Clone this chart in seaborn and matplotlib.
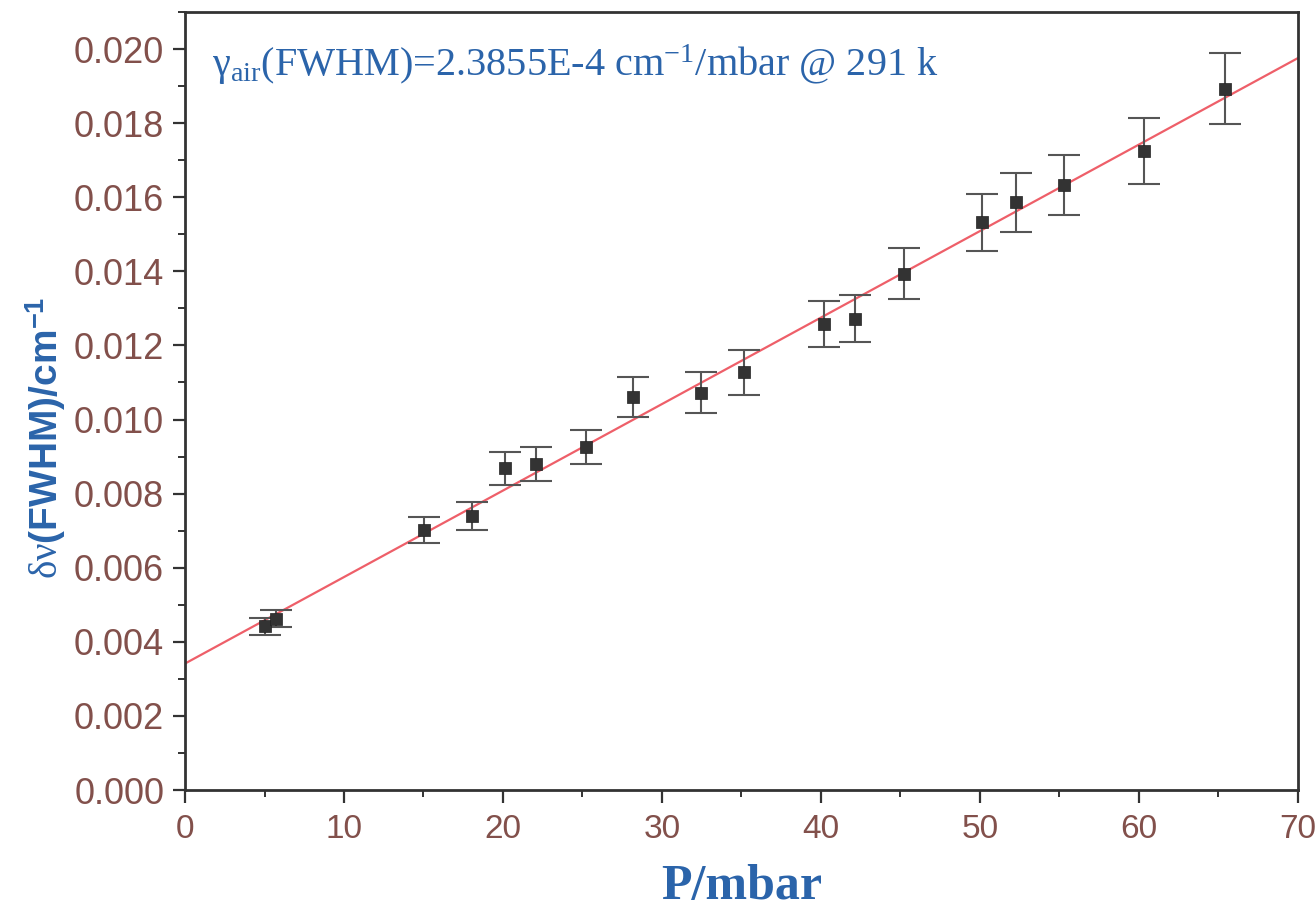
import numpy as np
import pandas as pd
import matplotlib
matplotlib.use("Agg")
import matplotlib.pyplot as plt
import seaborn as sns
from matplotlib.ticker import MultipleLocator, FormatStrFormatter

# Data
pressure = [5.04, 5.73, 15.06, 18.07, 20.10, 22.10, 25.20, 28.20, 32.46, 35.19,
            40.20, 42.17, 45.20, 50.13, 52.25, 55.26, 60.30, 65.40]
width = [0.00442, 0.00462, 0.00703, 0.00740, 0.00868, 0.00880, 0.00926, 0.01061,
         0.01072, 0.01127, 0.01258, 0.01272, 0.01394, 0.01532, 0.01586, 0.01633,
         0.01725, 0.01893]
width_err = [0.00023, 0.00023, 0.00035, 0.00038, 0.00044, 0.00045, 0.00046, 0.00054,
             0.00055, 0.00060, 0.00063, 0.00063, 0.00070, 0.00077, 0.00080, 0.00082,
             0.00088, 0.00096]
x_ticks = [0, 10, 20, 30, 40, 50, 60, 70]
y_ticks = [0.000, 0.002, 0.004, 0.006, 0.008, 0.010, 0.012, 0.014, 0.016, 0.018, 0.020]

df = pd.DataFrame({"P": pressure, "dv": width, "err": width_err})

sns.set_theme(style="white")
plt.rcParams["font.family"] = ["Liberation Sans", "DejaVu Sans"]
plt.rcParams["mathtext.fontset"] = "custom"
plt.rcParams["mathtext.rm"] = "Liberation Serif"
plt.rcParams["mathtext.it"] = "Liberation Serif:italic"
plt.rcParams["mathtext.bf"] = "Liberation Sans:bold"

tick_col = "#82504B"
blue = "#2B64AA"
spine_col = "#333333"

fig = plt.figure(figsize=(13.15, 9.09), dpi=100)
ax = fig.add_axes([0.1407, 0.1309, 0.8463, 0.8559])
ax.set_xlim(0, 70)
ax.set_ylim(0, 0.021)

# fitted line through the data
sns.regplot(data=df, x="P", y="dv", ax=ax, ci=None, truncate=False, scatter=False,
            line_kws=dict(color="#EE5F69", lw=1.6, zorder=2))

ax.errorbar(df["P"], df["dv"], yerr=df["err"], fmt="none", ecolor="#555555",
            elinewidth=1.5, capsize=11.5, capthick=1.5, zorder=3)
sns.scatterplot(data=df, x="P", y="dv", ax=ax, marker="s", s=64, color="#333333",
                edgecolor="#222222", linewidth=0.5, zorder=4)

ax.set_xlim(0, 70)
ax.set_ylim(0, 0.021)
ax.set_xticks(x_ticks)
ax.set_yticks(y_ticks)
ax.xaxis.set_minor_locator(MultipleLocator(5))
ax.yaxis.set_minor_locator(MultipleLocator(0.001))
ax.yaxis.set_major_formatter(FormatStrFormatter("%.3f"))

ax.tick_params(axis="both", which="major", direction="out", length=9, width=1.6,
               color=spine_col, labelcolor=tick_col, pad=6,
               bottom=True, left=True)
ax.tick_params(axis="x", which="major", labelsize=24, pad=8)
ax.tick_params(axis="y", which="major", labelsize=26)
ax.tick_params(axis="both", which="minor", direction="out", length=5, width=1.4,
               color=spine_col, bottom=True, left=True)
for sp in ax.spines.values():
    sp.set_color(spine_col)
    sp.set_linewidth(2.0)
    sp.set_visible(True)

ax.set_xlabel("P/mbar", fontsize=36, fontweight="bold", color=blue,
              family=["Liberation Serif", "DejaVu Serif"], labelpad=14)
ax.set_ylabel(r"$\mathrm{δν}$(FWHM)/cm$^{\mathbf{-1}}$", fontsize=28, fontweight="bold",
              color=blue)
ax.yaxis.set_label_coords(-0.105, 0.452)

ax.text(0.024, 0.932, r"γ$_{\mathrm{air}}$(FWHM)=2.3855E-4 cm$^{\mathrm{-1}}$/mbar @ 291 k",
        transform=ax.transAxes, fontsize=29, color=blue, va="center", ha="left",
        family=["Liberation Serif", "DejaVu Serif"])

fig.savefig("out.png", dpi=100)
